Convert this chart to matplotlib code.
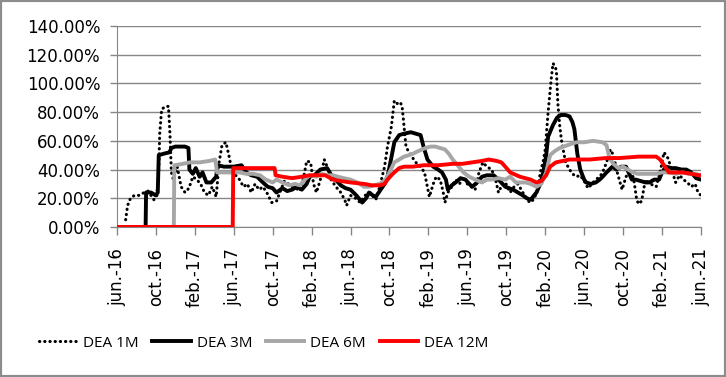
import matplotlib
matplotlib.use("Agg")
import matplotlib.pyplot as plt
from matplotlib.patches import Rectangle
from matplotlib.ticker import FuncFormatter

plt.rcParams["font.family"] = ["DejaVu Sans"]

# --- data: x = months since jun-16, y = rate in % ---
tick_labels = ["jun.-16", "oct.-16", "feb.-17", "jun.-17", "oct.-17", "feb.-18",
               "jun.-18", "oct.-18", "feb.-19", "jun.-19", "oct.-19", "feb.-20",
               "jun.-20", "oct.-20", "feb.-21", "jun.-21"]

dea1m_x = [0.9, 1.1, 1.4, 1.8, 2.3, 2.8, 3.2, 3.5, 3.8, 4.1, 4.3, 4.4, 4.6, 5.0, 5.3,
           5.45, 5.6, 5.8, 6.2, 6.6, 7.0, 7.4, 7.8, 8.2, 8.6, 9.0, 9.4, 9.8, 10.2, 10.5,
           10.8, 11.2, 11.5, 11.8, 12.2, 12.6, 13.0, 13.4, 13.8, 14.2, 14.6, 15.0, 15.4,
           15.9, 16.4, 16.8, 17.2, 17.6, 18.0, 18.4, 18.8, 19.2, 19.5, 19.9, 20.2, 20.5,
           20.9, 21.3, 21.6, 22.0, 22.5, 23.0, 23.4, 23.6, 24.0, 24.5, 25.0, 25.5, 26.0,
           26.6, 27.0, 27.5, 27.8, 28.2, 28.5, 28.8, 29.1, 29.3, 29.5, 29.7, 30.0, 30.4,
           30.7, 31.2, 31.6, 31.9, 32.1, 32.5, 32.8, 33.2, 33.5, 33.7, 34.0, 34.4, 34.8,
           35.2, 35.6, 36.0, 36.4, 36.8, 37.2, 37.6, 38.0, 38.5, 38.9, 39.2, 39.6, 39.9,
           40.4, 40.8, 41.2, 41.7, 42.1, 42.4, 42.8, 43.2, 43.5, 43.8, 44.0, 44.3, 44.6,
           44.8, 45.0, 45.15, 45.3, 45.5, 45.7, 46.1, 46.5, 46.8, 47.2, 47.6, 48.0, 48.4,
           48.8, 49.2, 49.6, 49.9, 50.3, 50.7, 51.0, 51.4, 51.9, 52.3, 52.8, 53.1, 53.4,
           53.6, 53.9, 54.3, 54.8, 55.4, 55.8, 56.2, 56.6, 56.9, 57.4, 57.8, 58.2, 58.6,
           59.0, 59.4, 59.7, 60.0]
dea1m_y = [5, 15, 20, 22, 22, 24, 25, 22, 19, 22, 40, 65, 82, 84, 84,
           65, 38, 33, 42, 28, 24, 27, 35, 33, 30, 24, 22, 28, 21, 45,
           57, 59, 50, 40, 36, 33, 28, 30, 24, 30, 26, 28, 24,
           17, 18, 25, 32, 30, 28, 27, 25, 35, 46, 45, 30, 24,
           33, 47, 42, 33, 28, 24, 19, 15, 22, 20, 17, 22, 24,
           19, 28, 42, 56, 70, 88, 86, 87, 84, 70, 56, 52, 48,
           45, 42, 38, 28, 21, 30, 35, 33, 25, 17, 24, 28, 33,
           30, 35, 30, 28, 26, 38, 45, 42, 40, 33, 24, 30, 31,
           24, 28, 30, 24, 20, 17, 19, 25, 38, 46, 54, 80, 102,
           114, 112, 109, 86, 70, 59, 45, 40, 37, 35, 36, 32, 27,
           30, 33, 35, 38, 45, 54, 50, 38, 26, 35, 40, 33, 19,
           16, 18, 33, 30, 28, 38, 52, 48, 42, 31, 36, 33, 31,
           28, 30, 24, 22]

dea3m_x = [2.95, 3.0, 3.5, 4.0, 4.2, 4.3, 4.8, 5.4, 5.6, 6.0, 7.0, 7.35, 7.45, 7.8, 8.1,
           8.5, 8.8, 9.2, 9.7, 10.2, 10.35, 11.0, 12.0, 12.8, 13.3, 13.8, 14.4, 15.0,
           15.5, 16.0, 16.4, 17.0, 17.5, 18.0, 18.5, 19.0, 19.5, 19.8, 20.3, 20.9, 21.6,
           22.2, 22.6, 23.0, 23.5, 24.0, 24.6, 25.2, 25.6, 25.9, 26.3, 26.6, 27.1, 27.5,
           27.8, 28.1, 28.5, 29.0, 29.5, 30.2, 30.7, 31.2, 31.5, 31.9, 32.5, 33.0, 33.4,
           33.8, 34.0, 34.4, 34.8, 35.3, 35.8, 36.2, 36.5, 37.0, 37.5, 38.0, 38.7, 39.2,
           39.9, 40.3, 40.7, 41.2, 41.7, 42.1, 42.5, 43.1, 43.5, 43.8, 44.1, 44.3, 44.8,
           45.2, 45.6, 46.1, 46.5, 46.8, 47.0, 47.3, 47.6, 48.0, 48.2, 48.7, 49.2, 49.6,
           49.9, 50.3, 50.9, 51.3, 51.8, 52.3, 52.9, 53.3, 53.8, 54.3, 54.7, 55.2, 55.7,
           56.0, 56.4, 57.0, 57.4, 58.0, 58.5, 59.0, 59.5, 60.0]
dea3m_y = [0, 24, 24, 22, 24, 50, 51, 52, 55, 56, 56, 55, 40, 37, 41,
           35, 38, 31, 31, 35, 43, 42, 42, 43, 38, 36, 35, 31,
           28, 27, 24, 27, 25, 26, 28, 26, 30, 35, 36, 40, 41,
           34, 32, 29, 27, 26, 22, 17, 20, 24, 22, 21, 26, 30,
           35, 45, 59, 64, 65, 66, 65, 64, 56, 47, 42, 40, 38,
           33, 26, 29, 31, 34, 33, 30, 28, 31, 35, 36, 36, 33,
           28, 27, 26, 24, 22, 20, 19, 24, 30, 38, 50, 63, 71,
           76, 78, 78, 77, 73, 68, 51, 40, 33, 31, 30, 31, 33,
           35, 38, 42, 40, 42, 42, 33, 33, 32, 31, 31, 33, 33,
           38, 42, 41, 41, 40, 40, 38, 34, 33]

dea6m_x = [5.85, 5.9, 6.8, 7.5, 8.5, 9.5, 10.1, 10.3, 11.0, 11.9, 12.6, 13.3, 14.0, 14.7,
           15.3, 16.0, 16.4, 17.0, 17.7, 18.3, 18.8, 19.3, 19.8, 20.5, 21.0, 21.6, 22.2,
           22.7, 23.3, 24.0, 24.7, 25.4, 25.9, 26.4, 27.0, 27.6, 28.0, 28.5, 29.0, 29.5,
           30.0, 30.4, 31.0, 31.7, 32.2, 32.7, 33.2, 33.7, 34.1, 34.5, 35.0, 35.6, 36.2,
           36.8, 37.5, 38.0, 38.5, 39.2, 39.9, 40.4, 41.0, 42.0, 42.5, 43.1, 43.6, 44.1,
           44.5, 45.0, 45.5, 46.3, 47.2, 48.0, 48.9, 49.9, 50.3, 50.6, 51.0, 51.5, 52.0,
           52.5, 53.0, 53.5, 54.0, 54.7, 55.4, 56.0, 56.7, 57.4, 58.1, 58.8, 59.4, 60.0]
dea6m_y = [0, 43, 44, 45, 45, 46, 47, 38, 38, 38, 38, 37, 37, 36,
           33, 31, 33, 31, 29, 30, 29, 33, 36, 35, 37, 36, 36,
           35, 34, 33, 31, 28, 28, 29, 30, 33, 38, 45, 47, 49,
           50, 51, 53, 55, 56, 56, 55, 54, 51, 47, 43, 38, 35,
           33, 31, 33, 33, 34, 33, 35, 31, 31, 30, 28, 30, 38,
           50, 53, 55, 57, 59, 59, 60, 59, 57, 48, 44, 41, 42,
           40, 38, 37, 37, 37, 37, 38, 38, 37, 38, 37, 37, 36]

dea12m_x = [0, 11.9, 11.95, 13.0, 14.0, 15.0, 16.2, 16.3, 17.0, 18.0, 19.0, 19.8, 20.5,
            21.4, 22.2, 23.0, 24.0, 25.4, 26.2, 27.0, 27.5, 27.8, 28.2, 28.5, 29.0, 29.5,
            30.4, 31.5, 33.0, 34.5, 35.5, 36.5, 37.5, 38.2, 39.0, 39.5, 39.9, 40.4, 41.4,
            42.5, 43.1, 43.6, 44.1, 44.5, 45.1, 46.5, 48.6, 50.2, 51.6, 53.6, 55.4, 55.8,
            56.2, 56.7, 58.1, 59.0, 59.8, 60.0]
dea12m_y = [0, 0, 41, 41, 41, 41, 41, 36, 35, 34, 35, 36, 36,
            36, 33, 32, 31, 30, 29, 29, 30, 33, 36, 38, 41, 42,
            42, 43, 43, 44, 44, 45, 46, 47, 46, 45, 42, 38, 35,
            33, 31, 32, 36, 42, 45, 47, 47, 48, 48, 49, 49, 47,
            43, 38, 38, 37, 36, 36]

# --- figure ---
fig = plt.figure(figsize=(7.26, 3.77), dpi=100)
ax = fig.add_axes([0.161, 0.398, 0.8045, 0.533])

grid_c = "#868686"
ax.plot(dea1m_x, dea1m_y, color="black", lw=2.2, linestyle=(0, (0.1, 1.6)),
        dash_capstyle="round", label="DEA 1M", zorder=3)
ax.plot(dea3m_x, dea3m_y, color="black", lw=2.8, label="DEA 3M", zorder=4)
ax.plot(dea6m_x, dea6m_y, color="#a6a6a6", lw=2.8, label="DEA 6M", zorder=5)
ax.plot(dea12m_x, dea12m_y, color="#ff0000", lw=2.8, label="DEA 12M", zorder=6)

ax.set_xlim(0, 60)
ax.set_ylim(0, 140)
ax.set_yticks(range(0, 141, 20))
ax.yaxis.set_major_formatter(FuncFormatter(lambda v, p: f"{v:.2f}%"))
ax.set_xticks(range(0, 61, 4))
ax.set_xticklabels(tick_labels, rotation=90)

ax.grid(axis="y", color=grid_c, lw=1)
ax.set_axisbelow(True)
for s in ["top", "right"]:
    ax.spines[s].set_visible(False)
for s in ["left", "bottom"]:
    ax.spines[s].set_color(grid_c)
ax.tick_params(axis="both", colors=grid_c, labelcolor="black", labelsize=12,
               length=5, width=1)
ax.tick_params(axis="y", pad=7)
ax.tick_params(axis="x", pad=9, length=6)

fig.legend(loc="center", bbox_to_anchor=(0.363, 0.09), ncol=4, frameon=False,
           prop={"family": "Open Sans", "size": 11},
           handlelength=2.5, handletextpad=0.4, columnspacing=0.9)

fig.add_artist(Rectangle((0, 0), 1, 1, transform=fig.transFigure, fill=False,
                         ec="#8c8c8c", lw=3))

plt.savefig("out.png", dpi=100)
